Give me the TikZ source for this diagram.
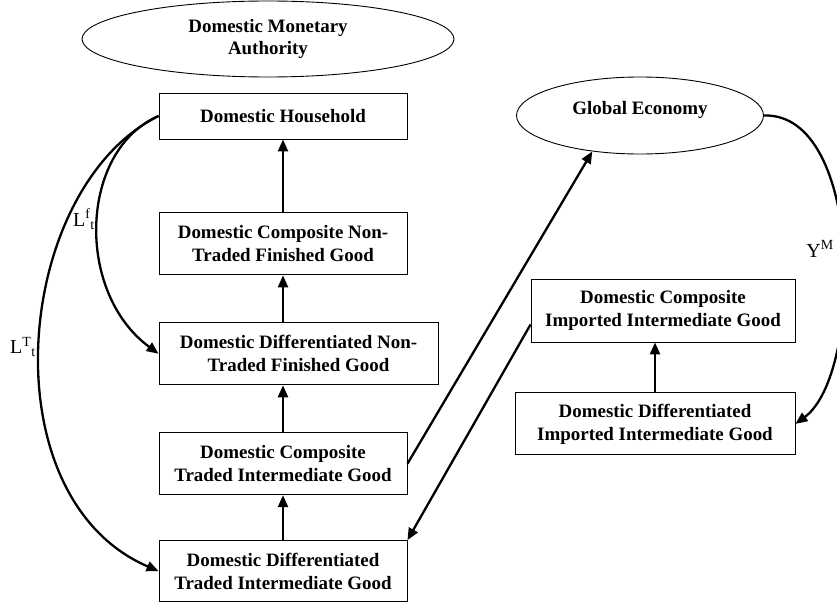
\documentclass[tikz,border=0pt]{standalone}
\usepackage{fontspec}
\setmainfont{Liberation Serif}
\usetikzlibrary{shapes.geometric,arrows.meta,positioning,calc}

\begin{document}
\begin{tikzpicture}[
    x=1bp, y=1bp,
    node distance=47bp,
    box/.style={rectangle, draw, line width=0.9bp, minimum width=248bp, minimum height=62bp, align=center, font=\fontsize{19}{23}\selectfont\bfseries},
    agent/.style={ellipse, draw, line width=0.9bp, align=center, font=\fontsize{19}{23}\selectfont\bfseries},
    flow/.style={line width=2.3bp, -{Triangle[length=12bp,width=10bp]}},
    lab/.style={font=\fontsize{20}{24}\selectfont}
]
\useasboundingbox (0,0) rectangle (837,-602);
\clip (0,0) rectangle (837,-602);

% Domestic side
\node[agent, minimum width=372bp, minimum height=76bp] (ma) at (268,-39) {Domestic Monetary\\Authority};
\node[box, minimum height=46bp] (hh) at (283,-116) {Domestic Household};
\node[box, below=73bp of hh] (cnt) {Domestic Composite Non-\\Traded Finished Good};
\node[box, below=of cnt, xshift=15.5bp, minimum width=279bp] (dnt) {Domestic Differentiated Non-\\Traded Finished Good};
\node[box, below=of dnt, xshift=-15.5bp] (ct) {Domestic Composite\\Traded Intermediate Good};
\node[box, below=45bp of ct, minimum height=61bp] (dt) {Domestic Differentiated\\Traded Intermediate Good};

% Foreign side
\node[agent, minimum width=247bp, minimum height=77bp, text depth=16bp] (ge) at (640,-115.5) {Global Economy};
\node[box, minimum width=264bp, minimum height=63bp] (ci) at (663,-310.5) {Domestic Composite\\Imported Intermediate Good};
\node[box, below=50bp of ci, xshift=-8bp, minimum width=280bp] (di) {Domestic Differentiated\\Imported Intermediate Good};

% Flows up the chains
\draw[flow] (cnt.north) -- (hh.south);
\draw[flow] (dnt.north -| cnt.south) -- (cnt.south);
\draw[flow] (ct.north) -- (ct.north |- dnt.south);
\draw[flow] (dt.north) -- (ct.south);
\draw[flow] (di.north) -- (di.north |- ci.south);

% Trade
\draw[flow] (ct.east) -- (ge.217);
\draw[flow] ([yshift=-14bp]ci.west) -- (dt.north east);

% Labour and imports
\draw[flow] (hh.west) .. controls ($(hh.west)+(-79,-34)$) and ($(dnt.west)+(-84,62)$) .. (dnt.west);
\draw[flow] (hh.west) .. controls ($(hh.west)+(-145,-72)$) and ($(dt.west)+(-172,74)$) .. (dt.west);
\draw[flow] (ge.east) .. controls ($(ge.east)+(100,3)$) and ($(di.east)+(68,50)$) .. (di.east);

\node[lab] (lf) at (84,-219) {L\textsuperscript{f}\textsubscript{t}};
\node[lab] (lt) at (23,-347) {L\textsuperscript{T}\textsubscript{t}};
\node[lab] (ym) at (820,-249) {Y\textsuperscript{M}};

\end{tikzpicture}
\end{document}
